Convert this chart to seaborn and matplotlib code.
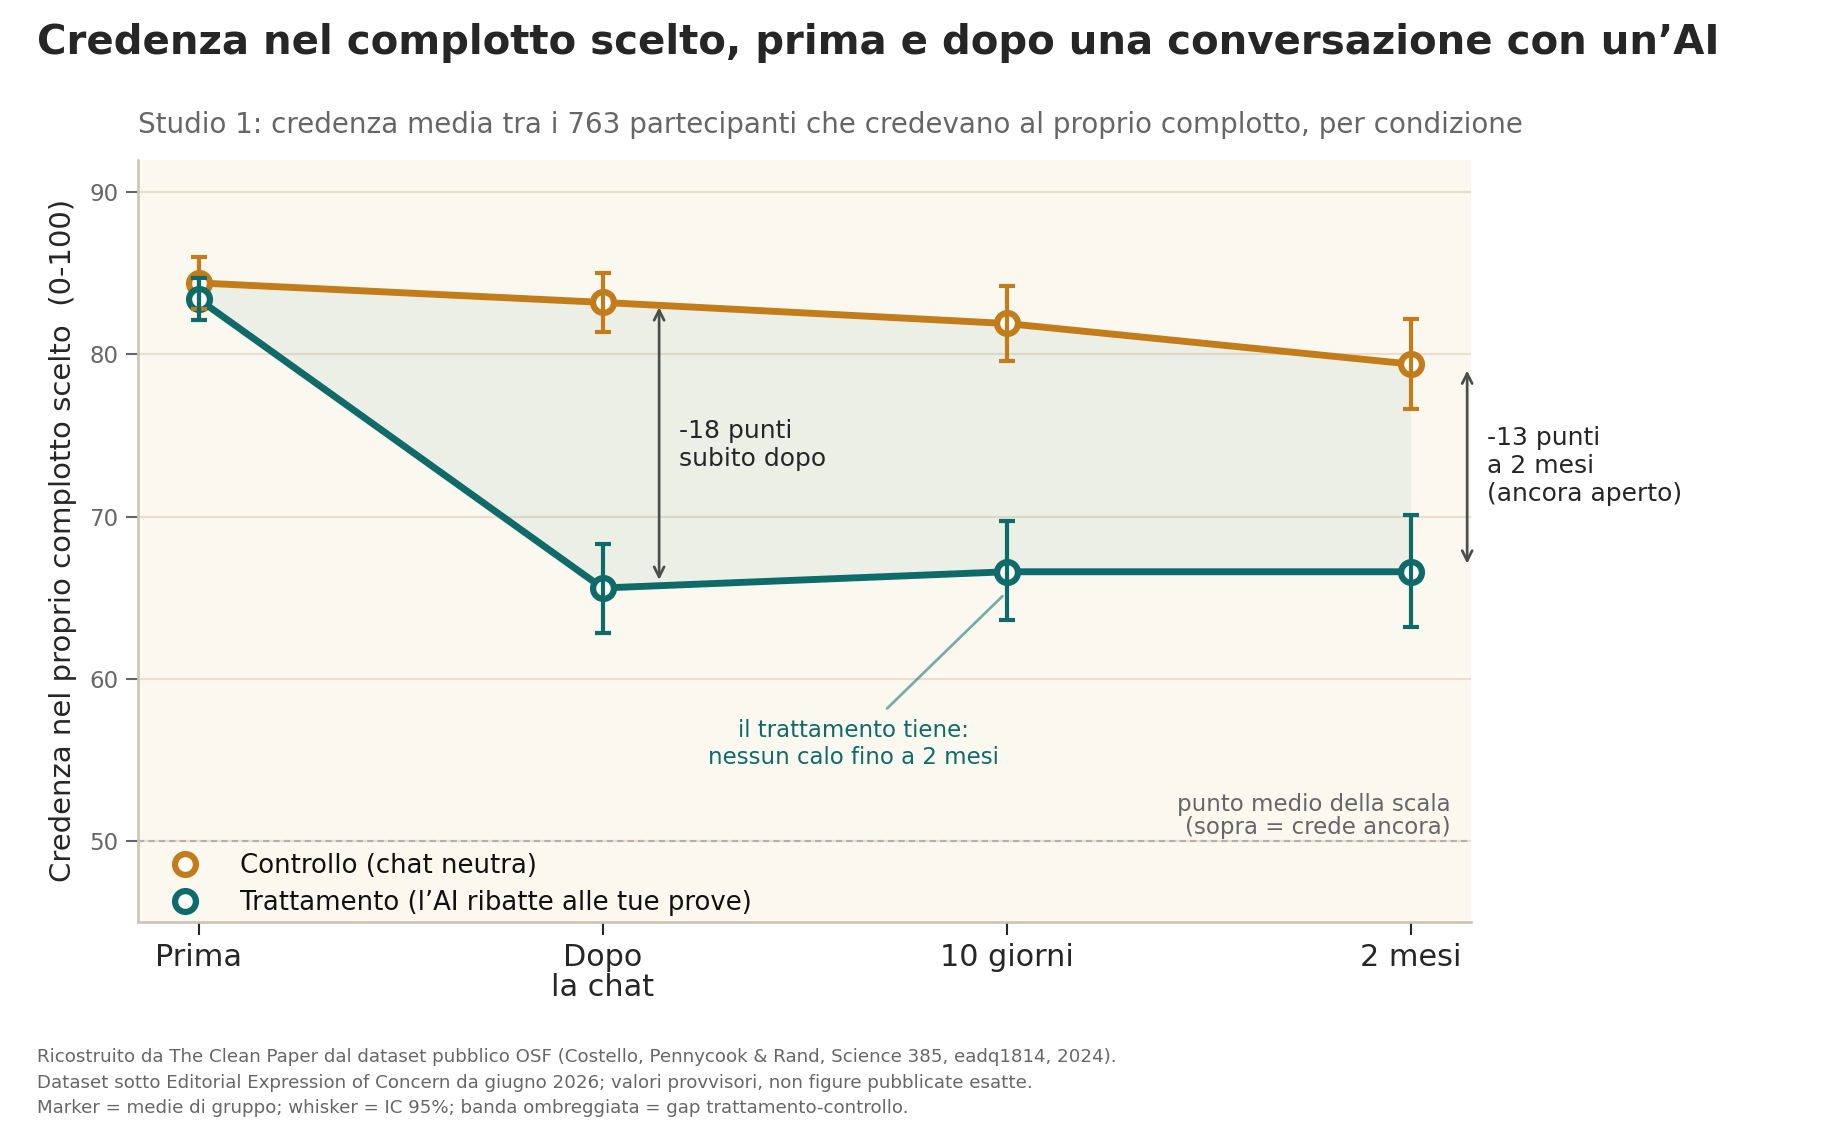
'''
Belief in the chosen conspiracy, before and after an AI conversation
'''
import matplotlib
matplotlib.use('Agg')
import matplotlib.pyplot as plt
from matplotlib.lines import Line2D
import seaborn as sns
import pandas as pnd

# ----------------------
momenti      = ['Prima', 'Dopo\nla chat', '10 giorni', '2 mesi']
ctrl_media   = [84.4, 83.2, 81.9, 79.4]
ctrl_lo      = [82.8, 81.4, 79.6, 76.6]
ctrl_hi      = [86.0, 85.0, 84.2, 82.2]
tratt_media  = [83.4, 65.6, 66.6, 66.6]
tratt_lo     = [82.1, 62.8, 63.6, 63.2]
tratt_hi     = [84.7, 68.3, 69.7, 70.1]
lab_ctrl     = 'Controllo (chat neutra)'
lab_tratt    = 'Trattamento (l\u2019AI ribatte alle tue prove)'

ORANGE = '#c27c1a'
TEAL   = '#0f6b6a'
BG     = '#faf8ef'
GRID   = '#eadfcd'
SPINE  = '#cdc6b6'
GREY   = '#666666'
DARK   = '#262626'
# ----------------------
def _make_df() -> pnd.DataFrame:
    pos = list(range(len(momenti)))
    df_c = pnd.DataFrame({'x': pos, 'media': ctrl_media, 'lo': ctrl_lo, 'hi': ctrl_hi, 'cond': lab_ctrl})
    df_t = pnd.DataFrame({'x': pos, 'media': tratt_media, 'lo': tratt_lo, 'hi': tratt_hi, 'cond': lab_tratt})
    return pnd.concat([df_c, df_t], ignore_index=True)
# ----------------------
def main():
    sns.set_theme(style='ticks')
    plt.rcParams['font.family'] = ['DejaVu Sans']

    df  = _make_df()
    fig = plt.figure(figsize=(12.26, 7.6), dpi=150)
    ax  = fig.add_axes([0.075, 0.191, 0.725, 0.669])
    ax.set_facecolor(BG)

    df_c = df[df.cond == lab_ctrl]
    df_t = df[df.cond == lab_tratt]

    ax.fill_between(df_c.x, df_t.media, df_c.media, color='#3f7a70', alpha=0.07, lw=0, zorder=1)

    for sub, col in [(df_c, ORANGE), (df_t, TEAL)]:
        sns.lineplot(data=sub, x='x', y='media', ax=ax, color=col, lw=3.3, marker='o',
                     markersize=10, markerfacecolor='white', markeredgecolor=col,
                     markeredgewidth=3.0, zorder=3, legend=False)
        ax.errorbar(sub.x, sub.media, yerr=[sub.media - sub.lo, sub.hi - sub.media],
                    fmt='none', ecolor=col, elinewidth=2, capsize=4, capthick=2, zorder=4)

    # midpoint of the scale
    ax.axhline(50, color='#b0b0b0', lw=1, ls=(0, (3, 2)), zorder=2)
    ax.text(3.10, 50.15, 'punto medio della scala\n(sopra = crede ancora)', ha='right', va='bottom',
            fontsize=11, color=GREY, linespacing=1.0)

    # gap arrows
    arr = dict(arrowstyle='<->', color='#4d4d4d', lw=1.3, shrinkA=0, shrinkB=0, mutation_scale=12)
    ax.annotate('', xy=(1.14, 66.1), xytext=(1.14, 82.9), arrowprops=arr)
    ax.text(1.19, 74.4, '-18 punti\nsubito dopo', ha='left', va='center', fontsize=12, color=DARK)
    ax.annotate('', xy=(3.14, 67.1), xytext=(3.14, 79.0), arrowprops=arr, annotation_clip=False)
    ax.text(3.19, 73.1, '-13 punti\na 2 mesi\n(ancora aperto)', ha='left', va='center', fontsize=12,
            color=DARK, clip_on=False)

    ax.annotate('il trattamento tiene:\nnessun calo fino a 2 mesi', xy=(1.99, 65.1), xytext=(1.62, 56.0),
                ha='center', va='center', fontsize=11, color=TEAL,
                arrowprops=dict(arrowstyle='-', color=TEAL, alpha=0.55, lw=1.3, relpos=(0.58, 1.0),
                                shrinkA=4, shrinkB=0))

    ax.set_xlim(-0.15, 3.15)
    ax.set_ylim(45, 92)
    ax.set_xticks(range(len(momenti)))
    ax.set_xticklabels(momenti, fontsize=14.5, color=DARK, linespacing=1.05)
    ax.set_yticks([50, 60, 70, 80, 90])
    ax.tick_params(axis='y', labelsize=11, labelcolor=GREY, color=GREY, length=6, width=1)
    ax.tick_params(axis='x', color=DARK, length=6, width=1, pad=4)
    ax.grid(axis='y', color=GRID, lw=1)
    ax.set_axisbelow(True)
    ax.set_xlabel('')
    ax.set_ylabel('Credenza nel proprio complotto scelto  (0-100)', fontsize=14, color=DARK, labelpad=6)
    sns.despine(ax=ax)
    for s in ['left', 'bottom']:
        ax.spines[s].set_color(SPINE)
        ax.spines[s].set_linewidth(1.3)

    handles = [Line2D([], [], ls='none', marker='o', markersize=10, markerfacecolor='white',
                      markeredgecolor=c, markeredgewidth=3) for c in [ORANGE, TEAL]]
    leg = ax.legend(handles, [lab_ctrl, lab_tratt], loc='lower left', fontsize=12.5, frameon=False,
                    bbox_to_anchor=(0.008, -0.006), borderaxespad=0,
                    handletextpad=1.1, labelspacing=0.45)
    for t in leg.get_texts():
        t.set_color('#111111')

    fig.text(0.02, 0.962, 'Credenza nel complotto scelto, prima e dopo una conversazione con un\u2019AI',
             fontsize=19.3, fontweight='bold', color=DARK, ha='left', va='center')
    fig.text(0.075, 0.890, 'Studio 1: credenza media tra i 763 partecipanti che credevano al proprio '
             'complotto, per condizione', fontsize=13.3, color=GREY, ha='left', va='center')
    foot = ('Ricostruito da The Clean Paper dal dataset pubblico OSF (Costello, Pennycook & Rand, '
            'Science 385, eadq1814, 2024).\n'
            'Dataset sotto Editorial Expression of Concern da giugno 2026; valori provvisori, non figure '
            'pubblicate esatte.\n'
            'Marker = medie di gruppo; whisker = IC 95%; banda ombreggiata = gap trattamento-controllo.')
    fig.text(0.02, 0.02, foot, fontsize=8.75, color=GREY, ha='left', va='bottom', linespacing=1.55)

    fig.savefig('out.png', dpi=150, facecolor='white')
    plt.close(fig)
# ----------------------
if __name__ == '__main__':
    main()
